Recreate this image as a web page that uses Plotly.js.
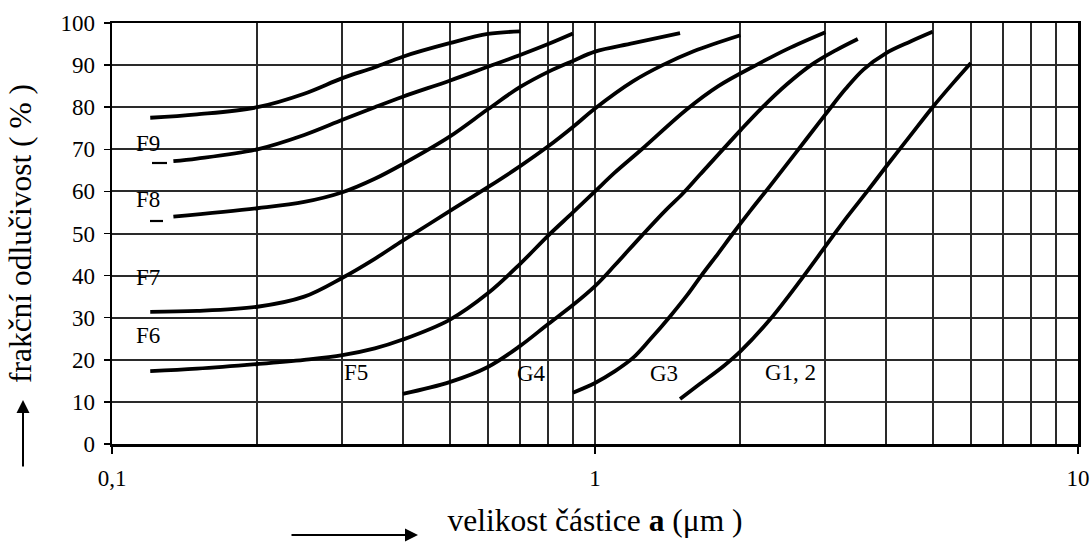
<!DOCTYPE html>
<html>
<head>
<meta charset="utf-8">
<script src="https://cdn.plot.ly/plotly-3.0.1.min.js"></script>
<style>html,body{margin:0;padding:0;background:#fff;}#chart{width:1091px;height:547px;}</style>
</head>
<body>
<div id="chart"></div>
<script>
// ---- data ----
const curveNames = ["F9", "F8", "F7", "F6", "F5", "G4", "G3", "G1, 2"];

const F9_x = [0.12, 0.15, 0.2, 0.25, 0.3, 0.35, 0.4, 0.5, 0.6, 0.7];
const F9_y = [77.5, 78.3, 80, 83.2, 86.9, 89.5, 92, 95.2, 97.4, 98];

const F8_x = [0.134, 0.15, 0.2, 0.25, 0.3, 0.35, 0.4, 0.5, 0.6, 0.7, 0.8, 0.9];
const F8_y = [67.2, 67.8, 70, 73.4, 77, 80, 82.5, 86.3, 89.6, 92.4, 95, 97.5];

const F7_x = [0.134, 0.2, 0.25, 0.3, 0.35, 0.4, 0.5, 0.6, 0.7, 0.8, 0.9, 1.0, 1.2, 1.5];
const F7_y = [54, 56, 57.5, 59.8, 63, 66.5, 73, 79.5, 84.8, 88.4, 91, 93.2, 95.2, 97.6];

const F6_x = [0.12, 0.15, 0.2, 0.25, 0.3, 0.35, 0.4, 0.5, 0.6, 0.7, 0.8, 0.9, 1.0, 1.2, 1.38, 1.6, 2.0];
const F6_y = [31.4, 31.6, 32.6, 35, 39.5, 44, 48.3, 55.3, 61, 66, 70.7, 75.3, 79.7, 86.2, 90, 93.3, 97.1];

const F5_x = [0.12, 0.15, 0.2, 0.25, 0.3, 0.35, 0.4, 0.5, 0.6, 0.7, 0.8, 0.9, 1.0, 1.1, 1.25, 1.55, 1.8, 2.18, 2.5, 3.0];
const F5_y = [17.3, 17.9, 19.0, 20.0, 21.1, 22.7, 24.8, 29.5, 35.8, 42.8, 49.5, 55, 60, 64.5, 70, 79.5, 85, 90.3, 93.8, 97.8];

const G4_x = [0.4, 0.5, 0.6, 0.7, 0.8, 0.9, 1.0, 1.1, 1.25, 1.4, 1.52, 1.65, 2.0, 2.2, 2.5, 2.8, 3.15, 3.5];
const G4_y = [11.9, 14.7, 18.3, 23.3, 28.5, 33, 37.5, 42.5, 49.5, 55.5, 59.5, 64, 74.5, 79.5, 85.5, 90, 93.5, 96.2];

const G3_x = [0.9, 1.0, 1.1, 1.2, 1.3, 1.43, 1.55, 1.66, 1.8, 1.93, 2.1, 2.3, 2.63, 3.0, 3.3, 3.6, 4.0, 4.5, 5.0];
const G3_y = [12.2, 14.5, 17.3, 20.5, 24.8, 30.3, 35.3, 40, 45.3, 50, 55.5, 61.2, 69.8, 78.3, 84.3, 89, 92.8, 95.6, 97.9];

const G12_x = [1.5, 1.65, 1.85, 2.0, 2.3, 2.68, 3.1, 3.33, 3.66, 4.0, 4.5, 5.0, 5.5, 6.0];
const G12_y = [10.7, 14.3, 18.6, 22, 29.5, 39.3, 49.2, 54, 60, 65.8, 73.3, 80, 85.6, 90.5];

const xTickVals = [0.1, 1, 10];
const xTickText = ["0,1", "1", "10"];
const xMinorVals = [0.2, 0.3, 0.4, 0.5, 0.6, 0.7, 0.8, 0.9, 2, 3, 4, 5, 6, 7, 8, 9];

const xTitle = "velikost částice <b>a</b> (μm )";
const yTitle = "frakční odlučivost ( % )";

// ---- geometry helpers (layout only) ----
const W = 1091, H = 547;
const L = 112, R = 13, T = 23, B = 103;
const PW = W - L - R, PH = H - T - B;
const px2x = p => (p - L) / PW;          // pixel -> paper x
const py2y = p => (H - B - p) / PH;      // pixel -> paper y
const logFrac = v => (Math.log10(v) + 1) / 2;

const FONT = "Liberation Serif, Times New Roman, serif";
const GRID = "#2a2a2a";

const series = [
  [F9_x, F9_y], [F8_x, F8_y], [F7_x, F7_y], [F6_x, F6_y],
  [F5_x, F5_y], [G4_x, G4_y], [G3_x, G3_y], [G12_x, G12_y]
];

const traces = series.map((s, i) => ({
  x: s[0], y: s[1], name: curveNames[i], type: "scatter", mode: "lines",
  line: {color: "#000", width: 3.8, shape: "spline", smoothing: 1},
  hoverinfo: "skip"
}));

// white gaps in the grid behind labels
function gapH(p0, p1, yval) {
  return {type: "rect", layer: "between", xref: "paper", yref: "y",
    x0: px2x(p0), x1: px2x(p1), y0: yval - 0.9, y1: yval + 0.9,
    fillcolor: "#fff", line: {width: 0}};
}
function gapV(xval, p0, p1) {
  const c = logFrac(xval);
  return {type: "rect", layer: "between", xref: "paper", yref: "paper",
    x0: c - 4 / PW, x1: c + 4 / PW, y0: py2y(p1), y1: py2y(p0),
    fillcolor: "#fff", line: {width: 0}};
}
function dash(p0, p1, py) {
  return {type: "line", layer: "above", xref: "paper", yref: "paper",
    x0: px2x(p0), x1: px2x(p1), y0: py2y(py), y1: py2y(py),
    line: {color: "#000", width: 2.2}};
}

const shapes = [
  gapH(130, 173, 70), gapH(130, 173, 60), gapH(130, 172, 40), gapH(130, 172, 30),
  gapH(345, 380, 20), gapH(513, 552, 20), gapH(647, 687, 20), gapH(758, 837, 20),
  gapV(0.3, 362, 393), gapV(0.7, 362, 393), gapV(0.8, 362, 393), gapV(3, 362, 393),
  dash(152, 167, 163), dash(150, 163, 221)
];

function label(text, cx, cy) {
  return {text: text, xref: "paper", yref: "paper", x: px2x(cx), y: py2y(cy),
    xanchor: "center", yanchor: "middle", showarrow: false,
    font: {family: FONT, size: 23, color: "#000"}};
}

const annotations = [
  label(curveNames[0], 148, 143),
  label(curveNames[1], 148, 200),
  label(curveNames[2], 148, 277),
  label(curveNames[3], 148, 335),
  label(curveNames[4], 356, 372),
  label(curveNames[5], 531, 373),
  label(curveNames[6], 664, 373),
  label(curveNames[7], 790, 372),
  // arrow under the y title
  {text: "", xref: "paper", yref: "paper", x: px2x(23), y: py2y(400),
   showarrow: true, ax: 0, ay: 68, arrowhead: 2, arrowsize: 1.3, arrowwidth: 2, arrowcolor: "#000"},
  // arrow before the x title
  {text: "", xref: "paper", yref: "paper", x: px2x(418), y: py2y(535),
   showarrow: true, ax: -128, ay: 0, arrowhead: 2, arrowsize: 1.3, arrowwidth: 2, arrowcolor: "#000"}
];

const layout = {
  width: W, height: H,
  margin: {l: L, r: R, t: T, b: B, pad: 0},
  paper_bgcolor: "#fff", plot_bgcolor: "#fff",
  showlegend: false,
  font: {family: FONT, color: "#000"},
  xaxis: {
    type: "log", range: [-1, 1],
    tickmode: "array", tickvals: xTickVals, ticktext: xTickText,
    ticks: "outside", ticklen: 7, tickwidth: 1.5, tickcolor: "#000",
    ticklabelstandoff: 5,
    showgrid: true, gridcolor: GRID, gridwidth: 2,
    minor: {tickmode: "array", tickvals: xMinorVals, showgrid: true,
            gridcolor: GRID, gridwidth: 2, ticks: ""},
    showline: true, linecolor: "#000", linewidth: 2.5, mirror: true,
    zeroline: false,
    tickfont: {family: FONT, size: 23, color: "#000"},
    title: {text: xTitle, font: {family: FONT, size: 31.5, color: "#000"}, standoff: 19}
  },
  yaxis: {
    range: [0, 100], tickmode: "linear", tick0: 0, dtick: 10,
    ticks: "outside", ticklen: 6, tickwidth: 1.5, tickcolor: "#000",
    ticklabelstandoff: 4,
    showgrid: true, gridcolor: GRID, gridwidth: 2,
    showline: true, linecolor: "#000", linewidth: 2.5, mirror: true,
    zeroline: false,
    tickfont: {family: FONT, size: 23, color: "#000"},
    title: {text: yTitle, font: {family: FONT, size: 31.5, color: "#000"}, standoff: 20}
  },
  shapes: shapes,
  annotations: annotations
};

Plotly.newPlot("chart", traces, layout, {staticPlot: true, displayModeBar: false});
</script>
</body>
</html>
